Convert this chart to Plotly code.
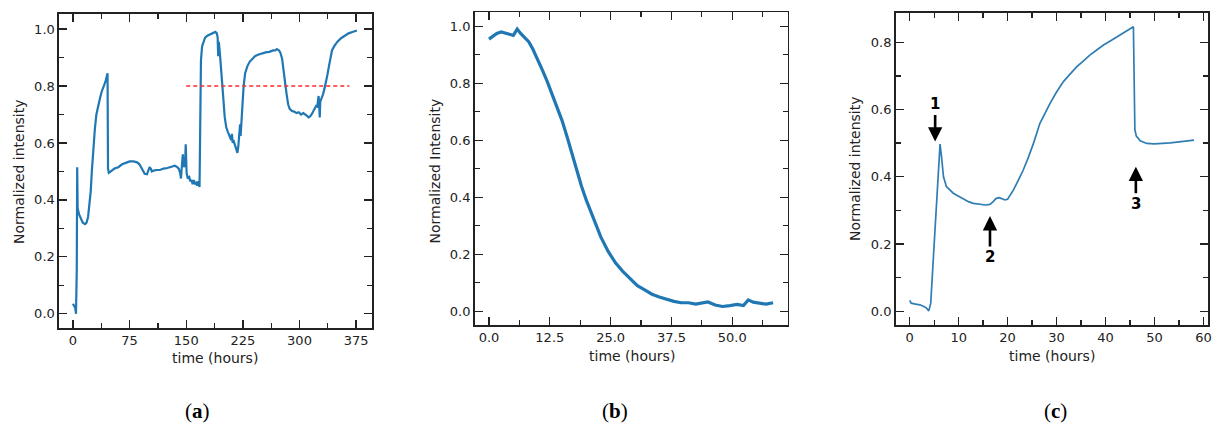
import plotly.graph_objects as go

# ---------------- data ----------------
# panel (a)
a_t = [0, 1.5, 3, 4, 5.0, 5.6, 6.2, 8, 10, 13, 16, 18, 20, 22, 23.5, 25, 27, 29, 31, 33.5, 36, 38, 40, 43, 45.8,
       46.4, 47.5, 50, 55, 60, 65, 70, 75, 80, 85, 88, 90, 92.5, 95, 98, 100, 101.5, 103, 104.5, 106, 110, 115,
       120, 125, 130, 135, 138, 140, 142, 143, 144.5, 145.5, 147, 148.5, 149.3, 150.5, 152, 154, 155.5, 157, 158.5,
       160, 161.5, 163, 164.5, 166, 167.6, 168.6, 169.5, 171, 173, 175, 178, 182, 186, 188.5, 190.5, 191.6, 192.3,
       193.2, 195, 197, 199, 201, 203, 205, 206.5, 208, 209.5, 210.5, 211.5, 212.5, 214, 215.5, 217, 217.8, 219,
       220.2, 221.3, 222, 223, 224.5, 226, 228, 231, 234, 237, 241, 245, 250, 255, 260, 265, 268, 270, 273, 275,
       277, 279, 281, 283, 285, 287, 290, 293, 296, 299, 302, 305, 308, 310, 312, 314, 316, 318, 320, 322, 323.5,
       324.5, 325.3, 326, 326.8, 327.5, 329, 331, 333, 335, 337, 339, 341, 343, 346, 350, 355, 360, 365, 370, 376]
a_v = [0.035, 0.025, 0.02, 0.0, 0.15, 0.515, 0.37, 0.35, 0.335, 0.32, 0.315, 0.32, 0.34, 0.38, 0.43, 0.5, 0.59,
       0.65, 0.70, 0.735, 0.76, 0.78, 0.795, 0.815, 0.845, 0.51, 0.495, 0.5, 0.51, 0.515, 0.525, 0.53, 0.535,
       0.535, 0.532, 0.525, 0.515, 0.5, 0.492, 0.49, 0.505, 0.515, 0.51, 0.5, 0.502, 0.505, 0.505, 0.51, 0.512,
       0.515, 0.52, 0.515, 0.51, 0.495, 0.475, 0.53, 0.56, 0.515, 0.53, 0.595, 0.495, 0.475, 0.48, 0.465, 0.47,
       0.455, 0.47, 0.455, 0.46, 0.45, 0.465, 0.445, 0.6, 0.89, 0.94, 0.96, 0.97, 0.977, 0.982, 0.986, 0.99,
       0.985, 0.97, 0.905, 0.955, 0.90, 0.84, 0.76, 0.69, 0.655, 0.64, 0.63, 0.625, 0.61, 0.632, 0.6, 0.61,
       0.595, 0.59, 0.575, 0.565, 0.59, 0.62, 0.665, 0.625, 0.67, 0.74, 0.80, 0.845, 0.87, 0.885, 0.895, 0.905,
       0.91, 0.915, 0.918, 0.92, 0.925, 0.925, 0.93, 0.925, 0.915, 0.895, 0.86, 0.81, 0.77, 0.735, 0.72, 0.712,
       0.71, 0.705, 0.708, 0.70, 0.705, 0.70, 0.695, 0.69, 0.693, 0.70, 0.712, 0.722, 0.73, 0.728, 0.745, 0.765,
       0.735, 0.69, 0.745, 0.755, 0.77, 0.79, 0.81, 0.84, 0.87, 0.9, 0.925, 0.94, 0.955, 0.968, 0.978, 0.985,
       0.99, 0.995, 0.997]
a_thr_t = [150, 366]
a_thr_v = [0.8, 0.8]

# panel (b)
b_t = [0, 0.8, 1.6, 2.5, 3.3, 4.2, 5.0, 5.8, 6.5, 7.3, 8.2, 9.0, 10.0, 11.0, 12.0, 13.0, 14.0, 15.0, 16.0,
       17.0, 18.0, 19.0, 20.0, 21.0, 22.0, 23.0, 24.5, 26.0, 27.5, 29.0, 30.5, 32.0, 33.5, 35.0, 36.5, 38.0,
       39.5, 41.0, 42.5, 44.0, 45.0, 46.5, 48.0, 49.5, 51.0, 52.3, 53.3, 54.3, 55.5, 57.0, 58.4]
b_v = [0.955, 0.965, 0.975, 0.98, 0.975, 0.972, 0.968, 0.99, 0.975, 0.962, 0.945, 0.92, 0.885, 0.845, 0.805,
       0.76, 0.715, 0.67, 0.615, 0.555, 0.495, 0.44, 0.39, 0.345, 0.30, 0.26, 0.21, 0.17, 0.14, 0.115, 0.09,
       0.075, 0.06, 0.05, 0.042, 0.035, 0.03, 0.03, 0.025, 0.03, 0.033, 0.022, 0.017, 0.02, 0.024, 0.02, 0.04,
       0.032, 0.028, 0.025, 0.03]

# panel (c)
c_t = [0, 0.3, 1.2, 2.1, 2.8, 3.4, 3.9, 4.3, 5.0, 5.6, 6.2, 6.5, 6.9, 7.5, 8.2, 8.9, 10.0, 11.0, 12.0, 13.0,
       14.4, 15.5, 16.4, 17.0, 17.6, 18.2, 18.8, 19.4, 20.0, 21.2, 22.2, 23.2, 24.3, 25.3, 26.6, 27.6, 28.7,
       30.0, 31.4, 32.8, 34.1, 35.5, 36.8, 38.2, 39.6, 41.3, 43.0, 44.4, 45.7, 46.0, 46.3, 47.1, 48.4, 50.0,
       51.8, 53.2, 54.6, 56.4, 58.1]
c_v = [0.032, 0.024, 0.021, 0.019, 0.015, 0.01, 0.001, 0.024, 0.2, 0.36, 0.497, 0.46, 0.40, 0.371, 0.36,
       0.351, 0.342, 0.333, 0.326, 0.321, 0.317, 0.316, 0.318, 0.325, 0.335, 0.338, 0.335, 0.331, 0.333,
       0.361, 0.39, 0.42, 0.46, 0.5, 0.559, 0.59, 0.619, 0.652, 0.683, 0.706, 0.727, 0.745, 0.762, 0.777,
       0.792, 0.807, 0.822, 0.834, 0.846, 0.54, 0.521, 0.507, 0.499, 0.498, 0.499, 0.501, 0.503, 0.506, 0.509]

# annotation arrows (c): tip position (t, v), label
arrow_labels = ["1", "2", "3"]
arrow_t = [5.2, 16.4, 46.2]
arrow_v = [0.505, 0.283, 0.43]
arrow_ay = [-37, 41, 37]

captions = ["(<b>a</b>)", "(<b>b</b>)", "(<b>c</b>)"]

# tick values (major = labelled, minor = unlabelled)
xa_major = [0, 75, 150, 225, 300, 375]
xa_minor = [37.5, 112.5, 187.5, 262.5, 337.5]
xb_major = [0.0, 12.5, 25.0, 37.5, 50.0]
xb_minor = [6.25, 18.75, 31.25, 43.75, 56.25]
xc_major = [0, 10, 20, 30, 40, 50, 60]
xc_minor = [5, 15, 25, 35, 45, 55]
y_major = [0.0, 0.2, 0.4, 0.6, 0.8, 1.0]
y_minor = [0.1, 0.3, 0.5, 0.7, 0.9]
yc_major = [0.0, 0.2, 0.4, 0.6, 0.8]
yc_minor = [0.1, 0.3, 0.5, 0.7]

# ---------------- figure ----------------
W, H = 1213, 427
def PX(x):
    return x / W
def PY(y):
    return 1 - y / H

fig = go.Figure()

BLUE = "#1f77b4"
fig.add_trace(go.Scatter(x=a_t, y=a_v, mode="lines", line=dict(color=BLUE, width=2.2),
                         xaxis="x", yaxis="y", showlegend=False))
fig.add_trace(go.Scatter(x=a_thr_t, y=a_thr_v, mode="lines",
                         line=dict(color="#ff2a2a", width=1.3, dash="4px,3px"),
                         xaxis="x", yaxis="y", showlegend=False))
fig.add_trace(go.Scatter(x=b_t, y=b_v, mode="lines", line=dict(color=BLUE, width=3.2),
                         xaxis="x2", yaxis="y2", showlegend=False))
fig.add_trace(go.Scatter(x=c_t, y=c_v, mode="lines", line=dict(color="#2f7db3", width=1.7),
                         xaxis="x3", yaxis="y3", showlegend=False))

TICKFONT = dict(family="DejaVu Sans", size=13, color="#222")
def ax(domain, rng, major, minor, fmt, anchor):
    return dict(domain=domain, range=rng, tickmode="array", tickvals=major,
                ticktext=[fmt.format(v) for v in major],
                ticks="inside", ticklen=8, tickwidth=1.3, tickcolor="#222",
                minor=dict(tickmode="array", tickvals=minor, ticks="inside", ticklen=5,
                           tickwidth=1.3, tickcolor="#222", showgrid=False),
                showline=True, linecolor="#222", linewidth=1.6, mirror="ticks",
                showgrid=False, zeroline=False, tickfont=TICKFONT, anchor=anchor,
                ticklabeloverflow="allow")

fig.update_layout(
    width=W, height=H, margin=dict(l=0, r=0, t=0, b=0, autoexpand=False),
    paper_bgcolor="white", plot_bgcolor="white",
    xaxis=ax([PX(59), PX(372)], [-18.5, 396], xa_major, xa_minor, "{:.0f}", "y"),
    yaxis=ax([PY(328), PY(14)], [-0.05, 1.053], y_major, y_minor, "{:.1f}", "x"),
    xaxis2=ax([PX(474.7), PX(787.7)], [-2.94, 61.4], xb_major, xb_minor, "{:.1f}", "y2"),
    yaxis2=ax([PY(325), PY(12.3)], [-0.048, 1.049], y_major, y_minor, "{:.1f}", "x2"),
    xaxis3=ax([PX(895.7), PX(1208.3)], [-2.86, 61.0], xc_major, xc_minor, "{:.0f}", "y3"),
    yaxis3=ax([PY(325), PY(12.7)], [-0.041, 0.888], yc_major, yc_minor, "{:.1f}", "x3"),
)

anns = []
TITLEFONT = dict(family="DejaVu Sans", size=14, color="#222")
ytitles = [("Normalized intensity", 18.5, 171.5), ("Normalized Intensity", 434, 171.5),
           ("Normalized intensity", 855, 169)]
xtitles = [("time (hours)", 215, 357.5), ("time (hours)", 631.5, 355.5), ("time (hours)", 1051.5, 355.5)]
for txt, px, py in ytitles:
    anns.append(dict(text=txt, x=PX(px), y=PY(py), xref="paper", yref="paper", showarrow=False,
                     textangle=-90, font=TITLEFONT, xanchor="center", yanchor="middle"))
for txt, px, py in xtitles:
    anns.append(dict(text=txt, x=PX(px), y=PY(py), xref="paper", yref="paper", showarrow=False,
                     font=TITLEFONT, xanchor="center", yanchor="middle"))
for txt, px in zip(captions, [197, 615, 1055]):
    anns.append(dict(text=txt, x=PX(px), y=PY(411), xref="paper", yref="paper", showarrow=False,
                     font=dict(family="Liberation Serif", size=21, color="black"),
                     xanchor="center", yanchor="middle"))
for lab, t, v, ay in zip(arrow_labels, arrow_t, arrow_v, arrow_ay):
    anns.append(dict(text="<b>%s</b>" % lab, x=t, y=v, xref="x3", yref="y3", showarrow=True,
                     ax=0, ay=ay, arrowhead=2, arrowsize=1.1, arrowwidth=2.6, arrowcolor="black",
                     font=dict(family="DejaVu Sans", size=15, color="black")))
fig.update_layout(annotations=anns)

# remove the default 8px page margin so the figure fills the window exactly
fig.write_html("out.html", config={"displayModeBar": False, "staticPlot": True},
               post_script="document.body.style.margin='0';document.body.style.overflow='hidden';")
